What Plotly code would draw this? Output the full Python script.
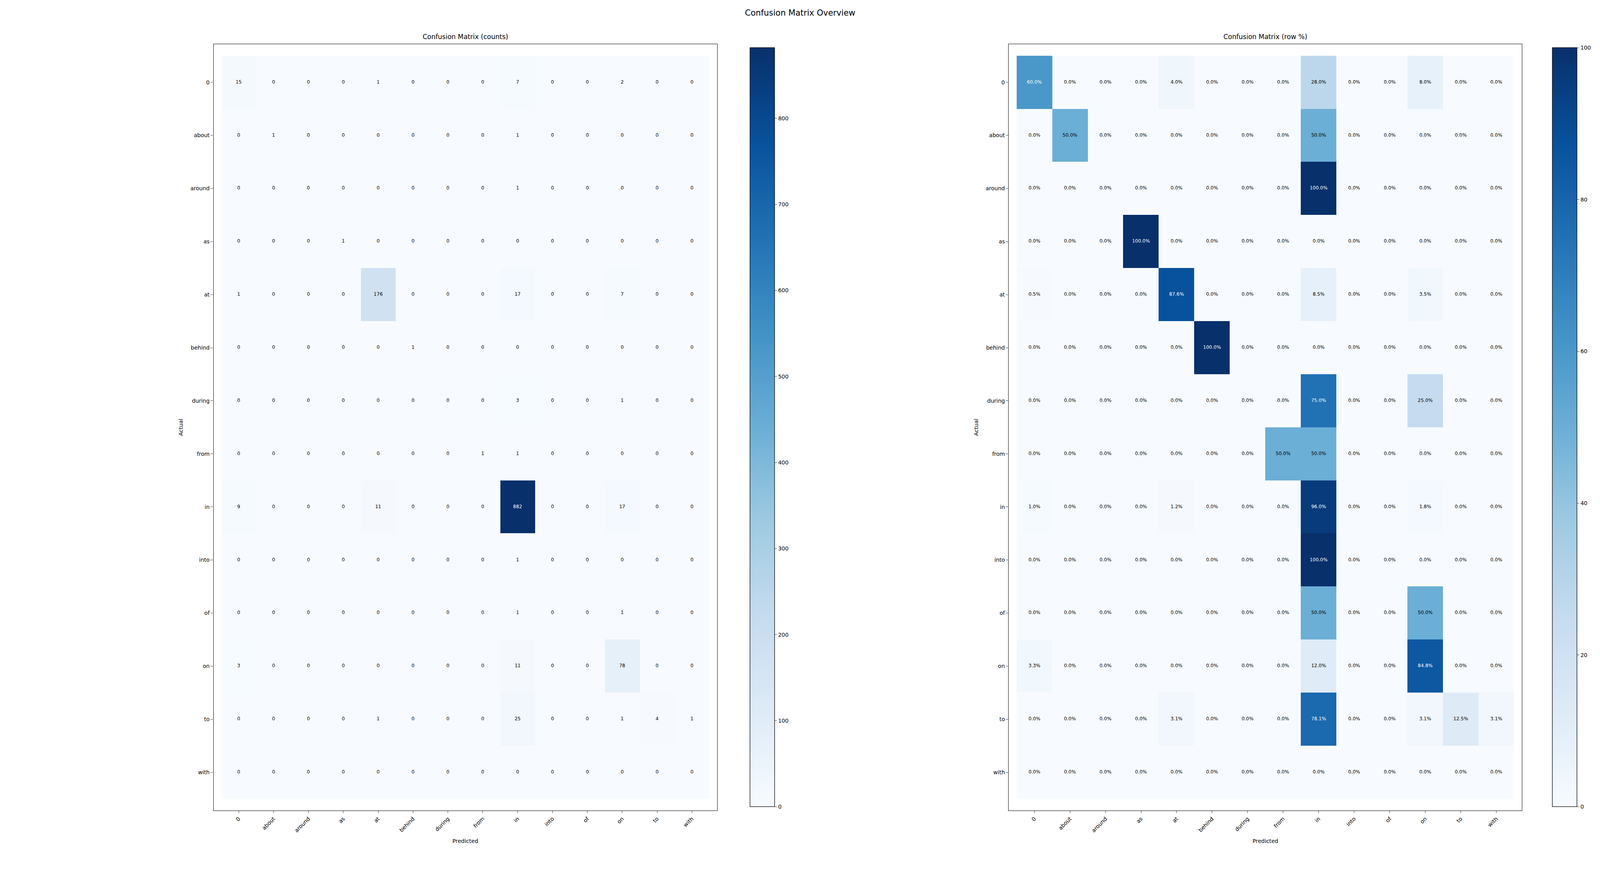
import plotly.graph_objects as go

labels = ["0","about","around","as","at","behind","during","from","in","into","of","on","to","with"]
counts = [
    [15,0,0,0,1,0,0,0,7,0,0,2,0,0],
    [0,1,0,0,0,0,0,0,1,0,0,0,0,0],
    [0,0,0,0,0,0,0,0,1,0,0,0,0,0],
    [0,0,0,1,0,0,0,0,0,0,0,0,0,0],
    [1,0,0,0,176,0,0,0,17,0,0,7,0,0],
    [0,0,0,0,0,1,0,0,0,0,0,0,0,0],
    [0,0,0,0,0,0,0,0,3,0,0,1,0,0],
    [0,0,0,0,0,0,0,1,1,0,0,0,0,0],
    [9,0,0,0,11,0,0,0,882,0,0,17,0,0],
    [0,0,0,0,0,0,0,0,1,0,0,0,0,0],
    [0,0,0,0,0,0,0,0,1,0,0,1,0,0],
    [3,0,0,0,0,0,0,0,11,0,0,78,0,0],
    [0,0,0,0,1,0,0,0,25,0,0,1,4,1],
    [0,0,0,0,0,0,0,0,0,0,0,0,0,0],
]
pct = [[(v / sum(r) * 100 if sum(r) else 0.0) for v in r] for r in counts]

FONT = "DejaVu Sans"
fig = go.Figure()

def add(z, zmax, txtfmt, xa, ya, cbx, ticks):
    fig.add_trace(go.Heatmap(z=z, x=labels, y=labels, colorscale="Blues", zmin=0, zmax=zmax,
                             xaxis=xa, yaxis=ya, hoverinfo="skip",
                             colorbar=dict(x=cbx, xanchor="left", y=0.0705, yanchor="bottom",
                                           len=0.8825, lenmode="fraction", thickness=0.0155,
                                           thicknessmode="fraction",
                                           outlinecolor="black", outlinewidth=1.3,
                                           tickvals=ticks, ticks="outside", ticklen=6,
                                           tickfont=dict(size=14, family=FONT, color="black"))))
    xs, ys, ts, cs = [], [], [], []
    for i, r in enumerate(z):
        for j, v in enumerate(r):
            xs.append(labels[j]); ys.append(labels[i]); ts.append(txtfmt(v))
            cs.append("white" if v > zmax / 2 else "black")
    fig.add_trace(go.Scatter(x=xs, y=ys, mode="text", text=ts, xaxis=xa, yaxis=ya,
                             textfont=dict(size=12, family=FONT, color=cs), hoverinfo="skip",
                             showlegend=False))

add(counts, 882, lambda v: str(v), "x", "y", 0.4662, [0,100,200,300,400,500,600,700,800])
add(pct, 100, lambda v: f"{v:.1f}%", "x2", "y2", 0.9695, [0,20,40,60,80,100])

ax = dict(type="category", showgrid=False, zeroline=False, showline=True, mirror=True,
          linecolor="black", linewidth=1.3, ticks="outside", ticklen=6,
          tickfont=dict(size=14, family=FONT, color="black"))
tf = dict(size=14, family=FONT, color="black")
fig.update_layout(
    autosize=True, margin=dict(l=0, r=0, t=0, b=0), plot_bgcolor="white",
    paper_bgcolor="white", showlegend=False,
    xaxis=dict(ax, domain=[0.132, 0.448], anchor="y", tickangle=-45,
               title=dict(text="Predicted", font=tf)),
    yaxis=dict(ax, domain=[0.0705, 0.953], anchor="x", autorange="reversed",
               title=dict(text="Actual", font=tf)),
    xaxis2=dict(ax, domain=[0.631, 0.953], anchor="y2", tickangle=-45,
                title=dict(text="Predicted", font=tf)),
    yaxis2=dict(ax, domain=[0.0705, 0.953], anchor="x2", autorange="reversed",
                title=dict(text="Actual", font=tf)),
    annotations=[
        dict(text="Confusion Matrix Overview", x=0.5, y=0.995, xref="paper", yref="paper",
             xanchor="center", yanchor="top", showarrow=False,
             font=dict(size=21, family=FONT, color="black")),
        dict(text="Confusion Matrix (counts)", x=0.29, y=0.956, xref="paper", yref="paper",
             xanchor="center", yanchor="bottom", showarrow=False,
             font=dict(size=17, family=FONT, color="black")),
        dict(text="Confusion Matrix (row %)", x=0.792, y=0.956, xref="paper", yref="paper",
             xanchor="center", yanchor="bottom", showarrow=False,
             font=dict(size=17, family=FONT, color="black")),
    ],
)
fig.write_html("out.html", default_width="100%", default_height="100%")
